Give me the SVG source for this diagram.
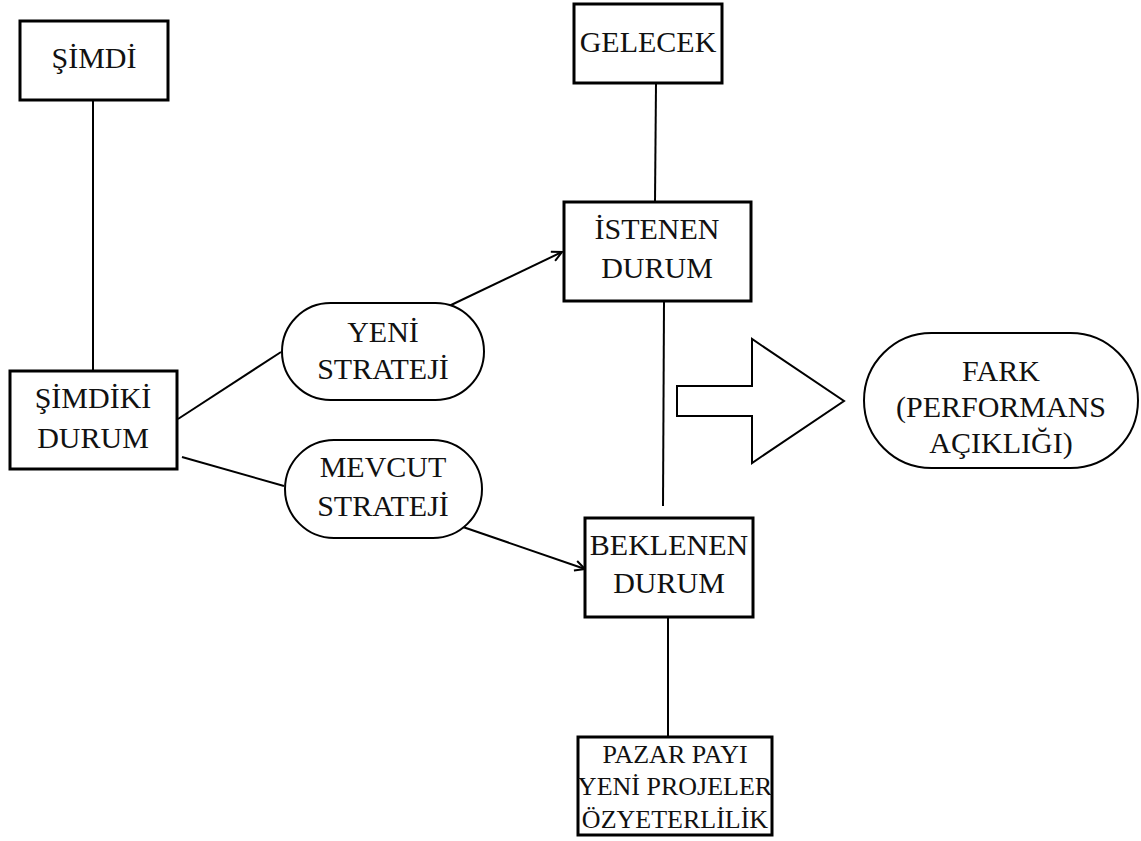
<svg xmlns="http://www.w3.org/2000/svg" width="1141" height="841" viewBox="0 0 1141 841">
<style>
.box{fill:#fff;stroke:#000;stroke-width:3}
.pill{fill:#fff;stroke:#000;stroke-width:2}
.ln{stroke:#000;stroke-width:2;fill:none}
.t{font-family:"Liberation Serif","Times New Roman",serif;font-size:30px;fill:#111;text-anchor:middle}
.s{font-size:26px}
</style>
<defs>
<marker id="ah" viewBox="0 0 12 12" refX="11" refY="6" markerWidth="12" markerHeight="12" markerUnits="userSpaceOnUse" orient="auto">
<path d="M1,1 L11,6 L1,11" fill="none" stroke="#000" stroke-width="2"/>
</marker>
</defs>
<rect width="1141" height="841" fill="#fff"/>
<g id="connectors">
<line class="ln" x1="93" y1="100" x2="93" y2="371"/>
<line class="ln" x1="656" y1="83" x2="655" y2="202"/>
<line class="ln" x1="664" y1="301" x2="663" y2="506"/>
<line class="ln" x1="668" y1="617" x2="668" y2="737"/>
<line class="ln" x1="178" y1="419" x2="281" y2="352"/>
<line class="ln" x1="182" y1="457" x2="284" y2="486"/>
<line class="ln" x1="449" y1="306" x2="562" y2="252" marker-end="url(#ah)"/>
<line class="ln" x1="463" y1="527" x2="585" y2="569" marker-end="url(#ah)"/>
</g>
<g id="simdi">
<rect class="box" x="20" y="21" width="148" height="79"/>
<text class="t" x="94" y="68">ŞİMDİ</text>
</g>
<g id="gelecek">
<rect class="box" x="574" y="4" width="148" height="79"/>
<text class="t" x="648" y="52">GELECEK</text>
</g>
<g id="simdiki-durum">
<rect class="box" x="10" y="371" width="167" height="98"/>
<text class="t" x="93" y="408">ŞİMDİKİ</text>
<text class="t" x="93" y="448">DURUM</text>
</g>
<g id="yeni-strateji">
<rect class="pill" x="282" y="303" width="202" height="97" rx="48.5" ry="48.5"/>
<text class="t" x="383" y="342">YENİ</text>
<text class="t" x="383" y="379">STRATEJİ</text>
</g>
<g id="mevcut-strateji">
<rect class="pill" x="285" y="440" width="197" height="98" rx="49" ry="49"/>
<text class="t" x="383" y="477">MEVCUT</text>
<text class="t" x="383" y="516">STRATEJİ</text>
</g>
<g id="istenen-durum">
<rect class="box" x="564" y="202" width="187" height="99"/>
<text class="t" x="657" y="239">İSTENEN</text>
<text class="t" x="657" y="278">DURUM</text>
</g>
<g id="beklenen-durum">
<rect class="box" x="585" y="518" width="168" height="99"/>
<text class="t" x="669" y="555">BEKLENEN</text>
<text class="t" x="669" y="593">DURUM</text>
</g>
<g id="pazar">
<rect class="box" x="578" y="737" width="194" height="98"/>
<text class="t s" x="675" y="763">PAZAR PAYI</text>
<text class="t s" x="675" y="795">YENİ PROJELER</text>
<text class="t s" x="675" y="828">ÖZYETERLİLİK</text>
</g>
<g id="block-arrow">
<polygon class="pill" points="677,386 752,386 752,339 844,401 752,463 752,416 677,416"/>
</g>
<g id="fark">
<rect class="pill" x="864" y="333" width="274" height="135" rx="67.5" ry="67.5"/>
<text class="t" x="1001" y="381">FARK</text>
<text class="t" x="1001" y="417">(PERFORMANS</text>
<text class="t" x="1001" y="453">AÇIKLIĞI)</text>
</g>
</svg>
